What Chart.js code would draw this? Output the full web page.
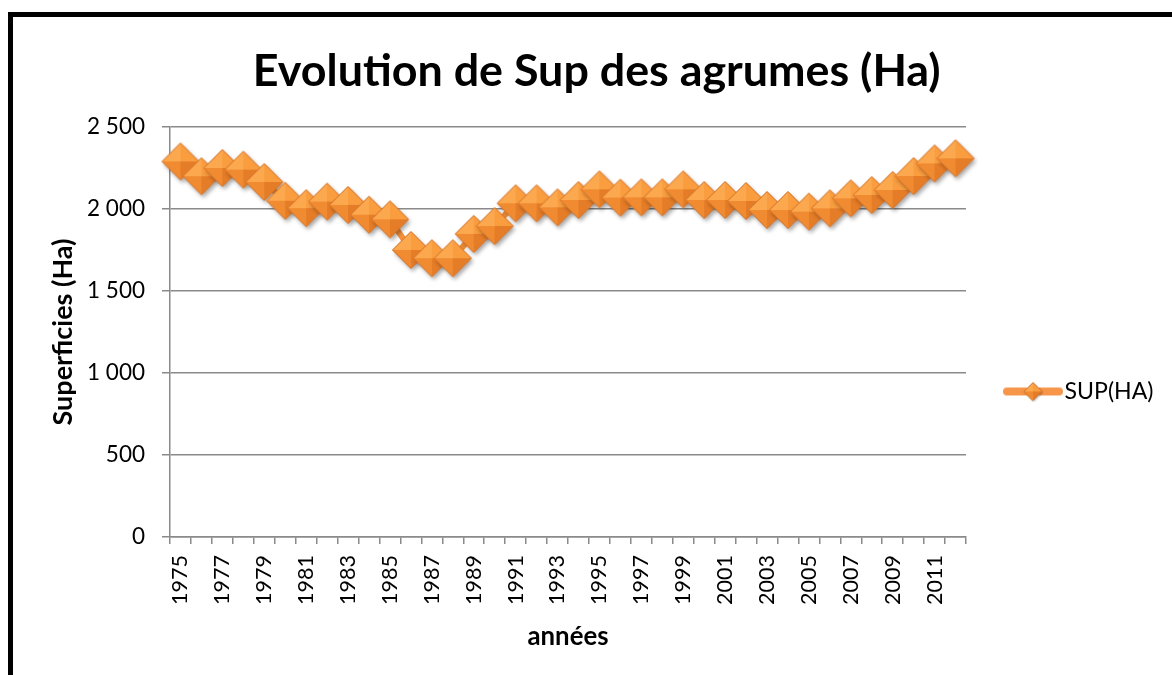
<!DOCTYPE html>
<html>
<head>
<meta charset="utf-8">
<script src="https://cdn.jsdelivr.net/npm/chart.js@4.4.1/dist/chart.umd.min.js"></script>
<style>
  html, body { margin:0; padding:0; background:#fff; overflow:hidden; width:1172px; height:675px; }
  #frame { position:absolute; left:8px; top:12px; width:2000px; height:2000px; border-left:5px solid #000; border-top:5px solid #000; box-sizing:border-box; }
  #c { position:absolute; left:0; top:0; }
</style>
</head>
<body>
<div id="frame"></div>
<canvas id="c" width="1172" height="675"></canvas>
<script>
const years = ['1975','1976','1977','1978','1979','1980','1981','1982','1983','1984','1985','1986','1987','1988','1989','1990','1991','1992','1993','1994','1995','1996','1997','1998','1999','2000','2001','2002','2003','2004','2005','2006','2007','2008','2009','2010','2011','2012'];
const supHa = [2290,2200,2250,2240,2165,2050,2005,2045,2025,1965,1937,1750,1700,1700,1848,1896,2035,2035,2010,2055,2120,2069,2071,2071,2120,2055,2055,2049,1994,1994,1984,2004,2065,2085,2116,2201,2278,2309];
const yTicks = [0,500,1000,1500,2000,2500];
const seriesName = 'SUP(HA)';
const chartTitle = 'Evolution de Sup des agrumes (Ha)';
const xTitle = 'années';
const yTitle = 'Superficies (Ha)';

const FONT = 'Lato, "Open Sans", sans-serif';

// font sizes fitted to the reference text widths
const mctx = document.createElement('canvas').getContext('2d');
function fitSize(text, weight, target) {
  mctx.font = weight + ' 100px ' + FONT;
  return 100 * target / mctx.measureText(text).width;
}
const fsTitle = fitSize(chartTitle, 'bold', 688);
const fsYTick = fitSize('2 500', 'normal', 58);
const fsXTick = fitSize('1975', 'normal', 50);
const fsYTitle = fitSize(yTitle, 'bold', 187);
const fsXTitle = fitSize(xTitle, 'bold', 81);
const fsLegend = fitSize(seriesName, 'normal', 89);

const PAD = { top: 14, left: 30, bottom: 10 };
const PLOT = { left: 170, top: 127, right: 966, bottom: 537 };

function pyramid(ctx, cx, cy, r) {
  const faces = [
    [[cx - r, cy], [cx, cy - r], '#FBA84E'],
    [[cx, cy - r], [cx + r, cy], '#F99D3F'],
    [[cx + r, cy], [cx, cy + r], '#E57C27'],
    [[cx, cy + r], [cx - r, cy], '#F08B31']
  ];
  faces.forEach(f => {
    ctx.beginPath();
    ctx.moveTo(cx, cy);
    ctx.lineTo(f[0][0], f[0][1]);
    ctx.lineTo(f[1][0], f[1][1]);
    ctx.closePath();
    ctx.fillStyle = f[2];
    ctx.fill();
  });
  ctx.beginPath();
  ctx.moveTo(cx - r, cy); ctx.lineTo(cx, cy - r); ctx.lineTo(cx + r, cy); ctx.lineTo(cx, cy + r); ctx.closePath();
  ctx.strokeStyle = '#D4732A';
  ctx.lineWidth = 1;
  ctx.stroke();
}

function makeMarker(r, size) {
  const cv = document.createElement('canvas');
  cv.width = size; cv.height = size;
  const ctx = cv.getContext('2d');
  const c = size / 2;
  ctx.save();
  ctx.shadowColor = 'rgba(0,0,0,0.35)';
  ctx.shadowBlur = 4;
  ctx.shadowOffsetX = 2;
  ctx.shadowOffsetY = 3;
  ctx.beginPath();
  ctx.moveTo(c - r, c); ctx.lineTo(c, c - r); ctx.lineTo(c + r, c); ctx.lineTo(c, c + r); ctx.closePath();
  ctx.fillStyle = '#EF8A30';
  ctx.fill();
  ctx.restore();
  pyramid(ctx, c, c, r);
  return cv;
}

// legend icon: the visible line runs from lineStart to lineEnd inside a wider transparent canvas
const LEG = { padding: 10, boxW: 77, lineStart: 41, lineEnd: 101, W: 105, H: 26 };
function makeLegendIcon() {
  const cv = document.createElement('canvas');
  cv.width = LEG.W; cv.height = LEG.H;
  const ctx = cv.getContext('2d');
  const cy = LEG.H / 2;
  ctx.strokeStyle = '#F7964A';
  ctx.lineWidth = 8;
  ctx.lineCap = 'round';
  ctx.beginPath();
  ctx.moveTo(LEG.lineStart + 4, cy); ctx.lineTo(LEG.lineEnd - 4, cy);
  ctx.stroke();
  const cx = (LEG.lineStart + LEG.lineEnd) / 2;
  ctx.save();
  ctx.shadowColor = 'rgba(0,0,0,0.3)';
  ctx.shadowBlur = 2; ctx.shadowOffsetX = 1; ctx.shadowOffsetY = 1;
  ctx.beginPath();
  ctx.moveTo(cx - 9, cy); ctx.lineTo(cx, cy - 9); ctx.lineTo(cx + 9, cy); ctx.lineTo(cx, cy + 9); ctx.closePath();
  ctx.fillStyle = '#EF8A30'; ctx.fill();
  ctx.restore();
  pyramid(ctx, cx, cy, 9);
  return cv;
}

const marker = makeMarker(18.5, 54);
const legendIcon = makeLegendIcon();

mctx.font = 'normal ' + fsLegend + 'px ' + FONT;
const legendTextW = mctx.measureText(seriesName).width;
const legendWidth = 2 * LEG.padding + LEG.boxW + fsLegend / 2 + legendTextW;
const padRight = 1172 - PLOT.right - legendWidth;

const titleLH = fsTitle * 1.2;
const titlePadTop = 72 - PAD.top - titleLH / 2;
const titlePadBottom = PLOT.top - PAD.top - titlePadTop - titleLH;

function fmt(v) { return String(v).replace(/\B(?=(\d{3})+(?!\d))/g, ' '); }

const chart = new Chart(document.getElementById('c'), {
  type: 'line',
  data: {
    labels: years,
    datasets: [{
      label: seriesName,
      data: supHa,
      borderColor: '#F7923C',
      borderWidth: 6,
      pointStyle: marker,
      pointRadius: 18,
      pointHoverRadius: 18,
      tension: 0,
      fill: false
    }]
  },
  options: {
    responsive: false,
    animation: false,
    devicePixelRatio: 1,
    layout: { padding: { top: PAD.top, left: PAD.left, right: padRight, bottom: PAD.bottom } },
    plugins: {
      tooltip: { enabled: false },
      title: {
        display: true,
        text: chartTitle,
        color: '#000',
        font: { family: FONT, size: fsTitle, weight: 'bold', lineHeight: 1.2 },
        padding: { top: titlePadTop, bottom: titlePadBottom }
      },
      legend: {
        display: true,
        position: 'right',
        title: { display: true, text: ' ', font: { size: 10, lineHeight: 1.2 }, padding: { top: 46, bottom: 46 } },
        labels: {
          color: '#000',
          font: { family: FONT, size: fsLegend },
          usePointStyle: true,
          pointStyleWidth: LEG.boxW,
          padding: LEG.padding,
          generateLabels: (ch) => ch.data.datasets.map((ds, i) => ({
            text: ds.label, pointStyle: legendIcon, datasetIndex: i,
            fillStyle: 'transparent', strokeStyle: 'transparent', lineWidth: 0, fontColor: '#000'
          }))
        }
      }
    },
    scales: {
      x: {
        type: 'category',
        offset: true,
        afterFit: (s) => { s.height = 675 - PAD.bottom - PLOT.bottom; },
        grid: { display: true, drawOnChartArea: false, drawTicks: true, tickLength: 7, offset: true, color: '#8a8a8a', lineWidth: 1.5 },
        border: { display: true, color: '#8a8a8a', width: 1.5 },
        ticks: {
          autoSkip: false, maxRotation: 90, minRotation: 90, padding: 11,
          color: '#000', font: { family: FONT, size: fsXTick },
          callback: function(v, i) { return i % 2 === 0 ? this.getLabelForValue(v) : ''; }
        },
        title: { display: true, text: xTitle, color: '#000', font: { family: FONT, size: fsXTitle, weight: 'bold', lineHeight: 1.2 },
                 padding: { top: 4, bottom: (675 - PAD.bottom) - 637 - fsXTitle * 0.6 } }
      },
      y: {
        min: 0, max: 2500,
        afterFit: (s) => { s.width = PLOT.left - PAD.left; },
        afterBuildTicks: (s) => { s.ticks = yTicks.map(v => ({ value: v })); },
        grid: { color: '#8a8a8a', lineWidth: 1.5, tickLength: 8, drawTicks: true },
        border: { display: true, color: '#8a8a8a', width: 1.5 },
        ticks: { padding: 17, color: '#000', font: { family: FONT, size: fsYTick }, callback: (v) => fmt(v) },
        title: { display: true, text: yTitle, color: '#000', font: { family: FONT, size: fsYTitle, weight: 'bold', lineHeight: 1.2 },
                 padding: { top: 63 - PAD.left - fsYTitle * 0.6, bottom: 0 } }
      }
    }
  }
});
</script>
</body>
</html>
